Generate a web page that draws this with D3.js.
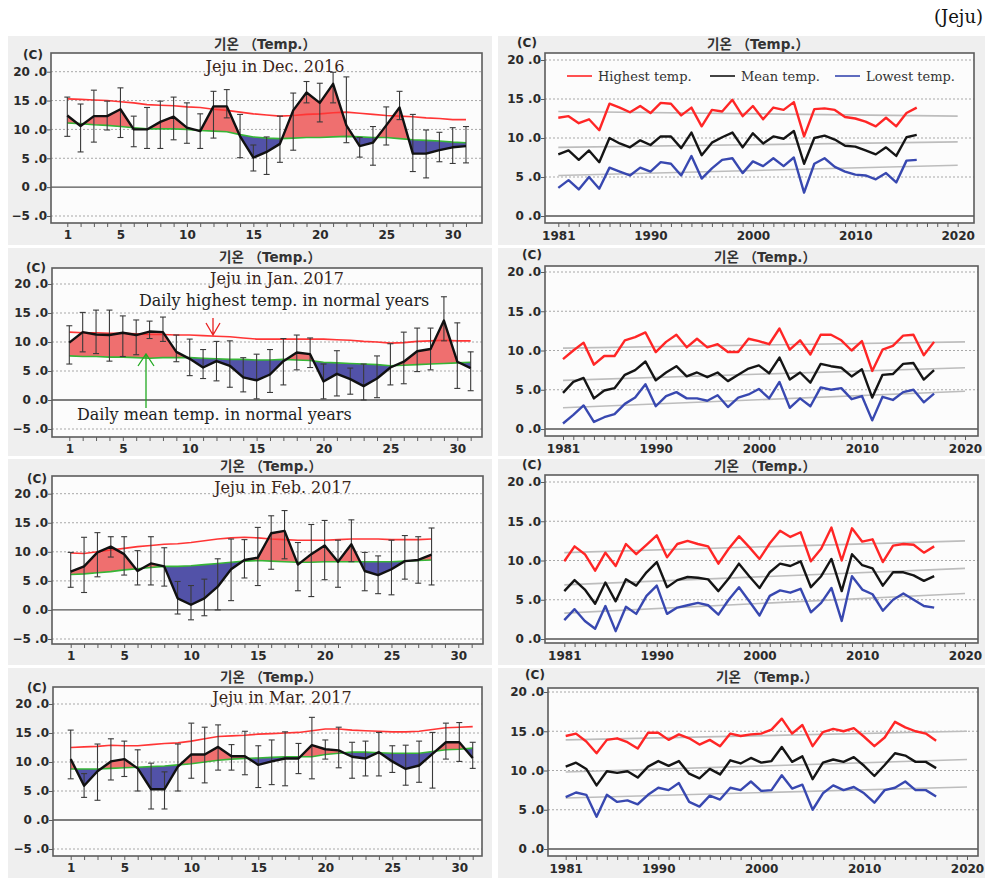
<!DOCTYPE html>
<html>
<head>
<meta charset="utf-8">
<script src="https://cdn.jsdelivr.net/npm/d3@7"></script>
<style>
  body { margin: 0; background: #ffffff; }
  svg { display: block; }
</style>
</head>
<body>
<svg id="chart" width="986" height="878"></svg>
<script>
// ---------- Axis ticks and labels ----------
const dayTicks = [1,2,3,4,5,6,7,8,9,10,11,12,13,14,15,16,17,18,19,20,21,22,23,24,25,26,27,28,29,30,31];
const dayLabels = [1, 5, 10, 15, 20, 25, 30];
const dailyTempTicks = [20, 15, 10, 5, 0, -5];
const yearLabels = [1981, 1990, 2000, 2010, 2020];
const yearlyTempTicks = [20, 15, 10, 5, 0];
const trendYears = [1981, 2020];
const seriesNames = ["Highest temp.", "Mean temp.", "Lowest temp."];

// ---------- Daily values: Dec. 2016 ----------
const decMean = [12.4,10.6,12.3,12.3,13.5,10.0,10.0,11.3,12.2,10.3,9.7,14.0,14.0,8.8,5.1,6.1,7.5,13.3,16.4,14.6,17.9,10.7,7.1,7.7,10.7,13.8,5.8,5.8,6.4,6.9,7.1];
const decMax  = [15.6,14.4,16.8,14.9,17.2,12.3,13.8,14.9,15.6,14.6,12.7,16.6,16.9,12.6,7.3,8.7,12.3,16.3,18.3,18.0,19.9,19.1,8.6,10.5,13.9,16.6,12.6,9.9,9.5,10.3,10.5];
const decMin  = [8.8,6.1,7.8,9.9,8.6,7.0,6.7,6.7,8.2,7.6,6.7,8.5,12.0,5.1,2.8,2.2,4.3,6.4,14.6,11.3,14.6,7.7,5.2,3.8,7.3,11.7,2.7,1.6,4.4,4.1,4.2];
const decNormHigh = [15.3,15.2,15.1,15.0,14.8,14.6,14.3,14.2,14.1,13.9,13.8,13.5,13.3,13.0,12.7,12.5,12.3,12.4,12.6,12.7,12.9,13.0,12.8,12.6,12.4,12.3,12.2,12.0,11.9,11.7,11.7];
const decNormMean = [11.1,11.0,10.8,10.7,10.5,10.3,10.1,10.1,10.1,10.0,9.8,9.7,9.6,9.1,8.7,8.5,8.4,8.5,8.6,8.6,8.7,8.8,8.7,8.6,8.6,8.4,8.2,8.1,8.0,7.8,7.7];

// ---------- Daily values: Jan. 2017 ----------
const janMean = [9.9,11.7,11.3,11.2,11.6,11.2,11.8,11.7,8.3,7.1,5.6,6.7,5.9,3.9,3.4,4.4,6.7,8.2,7.9,3.2,4.5,3.6,2.4,3.7,5.6,6.6,8.4,8.8,13.7,6.6,5.5];
const janMax  = [12.8,15.1,15.5,15.5,14.5,13.8,13.6,14.3,11.2,10.5,8.7,10.1,10.2,7.3,7.9,8.7,10.6,11.2,10.7,6.2,8.5,5.5,6.2,7.6,9.7,11.7,12.4,12.4,17.8,13.3,8.3];
const janMin  = [6.2,8.3,8.0,6.7,7.5,7.8,10.6,10.1,6.6,4.2,3.7,3.3,2.2,1.4,0.2,1.3,2.6,5.2,5.6,0.2,0.7,1.0,0.0,0.4,2.6,2.8,4.9,5.2,10.2,2.0,1.6];
const janNormHigh = [11.7,11.6,11.6,11.5,11.5,11.4,11.3,11.3,11.2,11.2,11.1,11.0,10.9,10.7,10.5,10.5,10.5,10.5,10.5,10.5,10.4,10.3,10.1,10.0,9.8,9.9,10.1,10.2,10.3,10.2,10.2];
const janNormMean = [7.6,7.5,7.5,7.4,7.4,7.3,7.2,7.3,7.3,7.3,7.2,7.1,7.0,7.0,6.9,6.9,7.0,6.9,6.8,6.5,6.4,6.3,6.2,6.1,5.9,6.0,6.1,6.2,6.3,6.4,6.5];

// ---------- Daily values: Feb. 2017 ----------
const febMean = [6.6,7.5,9.9,10.9,9.6,6.7,8.0,7.5,2.0,0.9,2.0,4.0,7.0,8.6,9.0,13.2,13.6,7.8,9.6,11.1,8.3,11.3,6.7,6.0,7.0,8.4,8.6,9.5];
const febMax  = [9.9,12.5,13.3,12.6,12.6,10.2,12.6,10.7,4.9,4.2,5.3,8.8,12.2,12.1,14.2,16.2,17.1,11.6,14.7,15.4,12.0,15.5,9.9,9.3,12.0,12.8,12.6,14.1];
const febMin  = [3.9,3.0,5.7,9.1,6.0,4.3,4.3,4.1,-0.7,-1.7,-1.0,0.0,1.6,5.5,4.2,7.0,8.8,3.3,2.3,5.2,3.9,8.3,3.3,2.8,2.6,5.3,4.6,4.3];
const febNormHigh = [9.8,9.7,10.0,10.3,10.6,10.9,11.1,11.3,11.4,11.6,11.9,12.2,12.4,12.5,12.4,12.2,12.1,12.0,12.0,12.0,12.1,12.2,12.2,12.2,12.1,12.1,12.1,12.2];
const febNormMean = [6.1,6.2,6.4,6.6,6.9,7.1,7.3,7.5,7.5,7.6,7.8,8.0,8.2,8.4,8.5,8.4,8.3,8.2,8.2,8.3,8.3,8.3,8.3,8.3,8.3,8.4,8.5,8.6];

// ---------- Daily values: Mar. 2017 ----------
const marMean = [10.5,5.9,8.4,10.1,10.5,8.9,5.3,5.3,9.2,11.3,11.3,12.6,11.0,11.0,9.5,10.1,10.6,10.6,12.9,12.2,12.0,10.9,10.6,11.7,10.1,8.8,9.4,11.4,13.4,13.4,10.7];
const marMax  = [15.5,8.0,13.1,14.0,13.6,12.1,9.8,8.3,13.1,16.7,16.0,16.4,13.0,15.3,12.8,13.8,15.2,13.2,17.7,13.8,16.0,13.4,13.6,15.1,12.8,12.9,13.6,15.1,16.7,16.8,13.4];
const marMin  = [7.1,3.9,3.4,6.9,7.5,5.0,1.9,1.9,5.0,7.2,6.4,8.6,8.6,7.8,5.6,6.1,5.9,8.0,7.1,10.5,9.0,7.2,7.6,7.6,8.2,6.0,6.5,5.5,10.5,10.1,8.9];
const marNormHigh = [12.5,12.6,12.7,12.9,12.8,12.8,13.0,13.2,13.3,13.6,14.0,14.4,14.5,14.6,14.8,14.9,15.0,15.1,15.4,15.7,15.7,15.5,15.4,15.3,15.2,15.2,15.3,15.6,15.9,16.0,16.1];
const marNormMean = [8.8,8.8,8.8,8.9,9.0,9.1,9.2,9.3,9.5,9.7,10.0,10.3,10.5,10.6,10.7,10.8,10.9,10.9,10.9,11.3,11.5,11.7,11.7,11.6,11.5,11.5,11.5,11.8,12.1,12.2,12.4];

// ---------- Monthly values by year, 1981 onward ----------
const decHigh = [12.6,12.8,11.9,12.4,11.0,14.4,13.9,13.3,14.1,13.2,14.5,14.4,12.9,13.9,11.5,13.6,13.4,14.9,12.8,14.1,12.4,13.9,13.6,14.6,10.2,13.7,13.8,13.6,12.7,12.5,12.1,11.5,12.6,11.5,13.2,13.9];
const decAvg  = [7.9,8.4,7.2,8.4,6.9,10.0,9.3,8.8,9.7,9.1,10.2,10.2,8.7,10.7,7.8,9.4,10.1,10.7,8.8,10.6,9.3,10.2,9.9,10.9,6.7,10.0,10.3,9.8,9.0,8.9,8.4,7.9,8.8,7.7,10.1,10.4];
const decLow  = [3.6,4.6,3.4,5.0,3.5,6.2,5.7,5.2,6.2,5.7,6.9,6.7,5.2,7.7,4.8,6.1,7.2,7.4,5.5,7.0,6.4,7.4,6.4,7.5,3.0,6.7,7.4,6.3,5.7,5.3,5.2,4.7,5.5,4.3,7.1,7.2];
const decTrendHigh = [13.4, 12.8];
const decTrendAvg  = [8.8, 9.5];
const decTrendLow  = [5.2, 6.5];

const janHigh = [8.9,10.0,11.0,8.2,9.3,9.3,11.3,11.7,12.3,9.8,11.1,12.0,10.4,11.5,10.4,10.8,9.8,9.8,11.5,11.2,10.8,12.8,10.1,11.3,9.5,12.0,12.0,11.3,10.0,11.2,7.4,10.1,10.6,11.9,12.0,9.4,11.1];
const janAvg  = [4.6,6.0,6.5,3.9,4.9,5.2,6.9,7.5,8.6,6.2,7.2,8.0,6.7,7.2,6.6,7.2,6.1,6.9,7.7,8.1,7.1,9.1,6.3,7.2,5.9,8.3,8.0,7.8,6.7,7.6,4.0,6.9,7.0,8.3,8.4,6.3,7.5];
const janLow  = [0.7,1.8,3.0,0.9,1.5,1.9,3.2,4.0,5.7,2.9,4.2,4.7,3.9,3.9,3.6,4.3,2.8,4.0,4.4,5.1,3.9,6.0,2.7,3.9,2.9,5.3,5.0,5.2,3.8,4.2,1.1,4.1,3.7,4.7,5.0,3.4,4.5];
const janTrendHigh = [10.3, 11.1];
const janTrendAvg  = [6.2, 7.8];
const janTrendLow  = [2.7, 4.8];

const febHigh = [9.9,11.8,10.8,8.7,11.0,9.3,12.1,10.8,12.0,13.2,10.4,12.1,12.5,12.1,11.8,9.6,11.5,13.1,11.7,10.2,12.2,13.8,13.0,13.6,9.9,11.5,14.2,10.0,14.1,12.4,12.7,9.8,11.9,12.1,12.0,11.0,11.8];
const febAvg  = [6.1,7.5,6.3,4.5,7.2,4.8,7.6,6.8,8.5,9.8,6.6,7.5,7.9,7.8,7.6,6.1,7.7,9.6,8.0,6.5,8.5,9.6,9.3,9.9,6.6,8.0,10.2,6.1,10.8,9.4,9.0,6.8,8.5,8.5,8.1,7.4,8.0];
const febLow  = [2.4,3.8,2.3,1.3,4.2,1.0,4.1,3.2,5.5,6.8,3.2,4.0,4.3,4.6,4.3,3.1,5.0,6.6,4.8,3.0,5.5,6.2,5.9,6.4,3.4,4.6,6.5,2.3,8.0,6.3,5.7,3.6,5.0,5.8,5.0,4.2,4.0];
const febTrendHigh = [11.0, 12.5];
const febTrendAvg  = [6.9, 9.0];
const febTrendLow  = [3.3, 5.8];

const marHigh = [14.4,14.7,13.7,12.2,13.9,14.1,13.6,12.8,14.8,14.8,13.9,14.6,14.1,13.3,13.9,13.1,14.7,14.4,14.6,14.7,15.2,16.6,14.7,15.8,13.1,14.9,15.3,15.0,15.4,14.3,13.1,14.2,16.2,15.5,15.0,14.7,13.8];
const marAvg  = [10.5,11.0,10.2,8.1,9.9,9.7,9.9,9.1,10.5,11.2,10.6,11.2,9.6,9.0,10.2,9.5,11.3,10.9,11.6,11.0,11.2,13.0,11.1,11.8,8.9,11.0,11.4,11.1,11.7,10.6,9.3,10.7,12.2,11.9,11.1,11.1,10.3];
const marLow  = [6.6,7.2,6.9,4.1,6.9,6.0,6.2,5.7,6.9,7.8,7.5,8.4,6.0,5.4,6.8,6.3,7.8,7.5,8.6,7.4,7.5,9.4,7.7,8.2,5.0,7.1,8.1,7.5,7.9,7.1,5.9,7.5,7.8,8.6,7.5,7.5,6.7];
const marTrendHigh = [13.9, 15.0];
const marTrendAvg  = [9.8, 11.4];
const marTrendLow  = [6.5, 7.9];

// ---------- Styles ----------
const C = {
  panel: "#efefef", plot: "#fcfcfc", frame: "#5c5c5c", grid: "#a8a8a8", zero: "#555555",
  warm: "#ef6f6f", cold: "#5252a8", normHigh: "#ff3535", normMean: "#36b536",
  bar: "#3a3a3a", mean: "#111111", high: "#ff2626", avg: "#151515", low: "#3848b0", trend: "#bdbdbd",
  text: "#2a2a2a"
};
const tickFont = "'DejaVu Sans', 'Liberation Sans', sans-serif";
const serifFont = "'DejaVu Serif', 'Liberation Serif', serif";
const titleText = "기온 （Temp.）";
const fmtTick = v => { const s = d3.format(".1f")(v).split("."); return s[0] + " ." + s[1]; };

const svg = d3.select("#chart");
const defs = svg.append("defs");

// ---------- Panel placement ----------
const rowBands = [[36, 245], [248, 456], [459, 665], [668, 878]];
const leftBand = [8, 492], rightBand = [498, 985];

const leftFrames = [
  { x0: 51, x1: 482, y0: 53,  y1: 223, yTop: 71.7,  yBot: 216, d1: 67.3, d30: 452.7, titleX: 265, titleY: 44,  cX: 33, cY: 55,  capX: 275, capY: 66 },
  { x0: 52, x1: 482, y0: 268, y1: 437, yTop: 284,   yBot: 429, d1: 69.3, d30: 457.3, titleX: 270, titleY: 257, cX: 36, cY: 268, capX: 277, capY: 278 },
  { x0: 52, x1: 483, y0: 476, y1: 644, yTop: 493.7, yBot: 639, d1: 70.7, d30: 458.3, titleX: 271, titleY: 466, cX: 37, cY: 479, capX: 283, capY: 487 },
  { x0: 53, x1: 482, y0: 687, y1: 856, yTop: 704,   yBot: 849, d1: 70.7, d30: 459.3, titleX: 271, titleY: 677, cX: 37, cY: 688, capX: 282, capY: 697 }
];
const rightFrames = [
  { x0: 545, x1: 974, y0: 53,  y1: 223, yTop: 60,  yBot: 216, yr0: 558.3, yr1: 957.7, titleX: 758, titleY: 44,  cX: 527, cY: 43 },
  { x0: 545, x1: 978, y0: 266, y1: 436, yTop: 272, yBot: 429, yr0: 563,   yr1: 965,   titleX: 765, titleY: 257, cX: 532, cY: 255 },
  { x0: 545, x1: 978, y0: 475, y1: 643, yTop: 482, yBot: 639, yr0: 564.3, yr1: 965,   titleX: 765, titleY: 466, cX: 532, cY: 465 },
  { x0: 548, x1: 978, y0: 688, y1: 856, yTop: 692, yBot: 849, yr0: 565.7, yr1: 967,   titleX: 767, titleY: 677, cX: 535, cY: 675 }
];

const dailySets = [
  { id: "dec", caption: "Jeju in Dec. 2016", mean: decMean, max: decMax, min: decMin, normHigh: decNormHigh, normMean: decNormMean },
  { id: "jan", caption: "Jeju in Jan. 2017", mean: janMean, max: janMax, min: janMin, normHigh: janNormHigh, normMean: janNormMean },
  { id: "feb", caption: "Jeju in Feb. 2017", mean: febMean, max: febMax, min: febMin, normHigh: febNormHigh, normMean: febNormMean },
  { id: "mar", caption: "Jeju in Mar. 2017", mean: marMean, max: marMax, min: marMin, normHigh: marNormHigh, normMean: marNormMean }
];
const yearlySets = [
  { high: decHigh, avg: decAvg, low: decLow, tHigh: decTrendHigh, tAvg: decTrendAvg, tLow: decTrendLow },
  { high: janHigh, avg: janAvg, low: janLow, tHigh: janTrendHigh, tAvg: janTrendAvg, tLow: janTrendLow },
  { high: febHigh, avg: febAvg, low: febLow, tHigh: febTrendHigh, tAvg: febTrendAvg, tLow: febTrendLow },
  { high: marHigh, avg: marAvg, low: marLow, tHigh: marTrendHigh, tAvg: marTrendAvg, tLow: marTrendLow }
];

// ---------- Background blocks ----------
rowBands.forEach(([t, b]) => {
  svg.append("rect").attr("x", leftBand[0]).attr("y", t).attr("width", leftBand[1] - leftBand[0]).attr("height", b - t).attr("fill", C.panel);
  svg.append("rect").attr("x", rightBand[0]).attr("y", t).attr("width", rightBand[1] - rightBand[0]).attr("height", b - t).attr("fill", C.panel);
});

svg.append("text").attr("x", 983).attr("y", 23).attr("text-anchor", "end")
  .attr("font-family", serifFont).attr("font-size", 18).attr("fill", "#111").text("(Jeju)");

function styleAxis(ax) {
  ax.select(".domain").remove();
  ax.selectAll(".tick line").attr("stroke", C.frame).attr("stroke-width", 1);
  ax.selectAll(".tick text").attr("font-family", tickFont).attr("font-weight", "bold")
    .attr("font-size", 12).attr("fill", C.text);
}

function panelHeader(g, f) {
  g.append("text").attr("x", f.titleX).attr("y", f.titleY).attr("text-anchor", "middle")
    .attr("dominant-baseline", "central").attr("font-family", "'DejaVu Sans', 'Noto Sans CJK KR', sans-serif")
    .attr("font-weight", "bold").attr("font-size", 13.5).attr("fill", "#333").text(titleText);
  g.append("text").attr("x", f.cX).attr("y", f.cY).attr("text-anchor", "middle")
    .attr("dominant-baseline", "central").attr("font-family", tickFont)
    .attr("font-weight", "bold").attr("font-size", 12).attr("fill", C.text).text("(C)");
}

// ---------- Daily panel ----------
function drawDaily(f, s) {
  const g = svg.append("g");
  const x = d3.scaleLinear().domain([1, 30]).range([f.d1, f.d30]);
  const y = d3.scaleLinear().domain([-5, 20]).range([f.yBot, f.yTop]);

  g.append("rect").attr("x", f.x0).attr("y", f.y0).attr("width", f.x1 - f.x0).attr("height", f.y1 - f.y0).attr("fill", C.plot);

  dailyTempTicks.forEach(v => {
    g.append("line").attr("x1", f.x0).attr("x2", f.x1).attr("y1", y(v)).attr("y2", y(v))
      .attr("stroke", v === 0 ? C.zero : C.grid).attr("stroke-width", v === 0 ? 1.3 : 1)
      .attr("stroke-dasharray", v === 0 ? null : "2,2");
  });

  const rows = s.mean.map((m, i) => ({ d: i + 1, mean: m, max: s.max[i], min: s.min[i], nh: s.normHigh[i], nm: s.normMean[i] }));

  defs.append("clipPath").attr("id", s.id + "-above").append("path")
    .attr("d", d3.area().x(r => x(r.d)).y0(f.y0).y1(r => y(r.nm))(rows));
  defs.append("clipPath").attr("id", s.id + "-below").append("path")
    .attr("d", d3.area().x(r => x(r.d)).y0(r => y(r.nm)).y1(f.y1)(rows));

  const band = d3.area().x(r => x(r.d)).y0(r => y(r.nm)).y1(r => y(r.mean));
  g.append("path").attr("d", band(rows)).attr("fill", C.warm).attr("clip-path", `url(#${s.id}-above)`);
  g.append("path").attr("d", band(rows)).attr("fill", C.cold).attr("clip-path", `url(#${s.id}-below)`);

  g.append("path").attr("d", d3.line().x(r => x(r.d)).y(r => y(r.nh))(rows))
    .attr("fill", "none").attr("stroke", C.normHigh).attr("stroke-width", 1.6);
  g.append("path").attr("d", d3.line().x(r => x(r.d)).y(r => y(r.nm))(rows))
    .attr("fill", "none").attr("stroke", C.normMean).attr("stroke-width", 1.6);

  const bars = g.append("g").attr("stroke", C.bar).attr("stroke-width", 1.1);
  rows.forEach(r => {
    bars.append("line").attr("x1", x(r.d)).attr("x2", x(r.d)).attr("y1", y(r.max)).attr("y2", y(r.min));
    [r.max, r.min].forEach(v => bars.append("line").attr("x1", x(r.d) - 3).attr("x2", x(r.d) + 3).attr("y1", y(v)).attr("y2", y(v)));
  });

  g.append("path").attr("d", d3.line().x(r => x(r.d)).y(r => y(r.mean))(rows))
    .attr("fill", "none").attr("stroke", C.mean).attr("stroke-width", 2.4).attr("stroke-linejoin", "round");

  g.append("rect").attr("x", f.x0).attr("y", f.y0).attr("width", f.x1 - f.x0).attr("height", f.y1 - f.y0)
    .attr("fill", "none").attr("stroke", C.frame).attr("stroke-width", 1.6);

  const ay = g.append("g").attr("transform", `translate(${f.x0},0)`)
    .call(d3.axisLeft(y).tickValues(dailyTempTicks).tickSize(4).tickPadding(0).tickFormat(fmtTick));
  styleAxis(ay);
  const ax = g.append("g").attr("transform", `translate(0,${f.y1})`)
    .call(d3.axisBottom(x).tickValues(dayTicks).tickSize(4).tickPadding(3).tickFormat(d => dayLabels.includes(d) ? d : ""));
  styleAxis(ax);

  panelHeader(g, f);
  g.append("text").attr("x", f.capX).attr("y", f.capY).attr("text-anchor", "middle")
    .attr("dominant-baseline", "central").attr("font-family", serifFont).attr("font-size", 16)
    .attr("fill", "#3a2418").text(s.caption);
  return { g, x, y };
}

// ---------- Yearly panel ----------
function drawYearly(f, s) {
  const g = svg.append("g");
  const x = d3.scaleLinear().domain([1981, 2020]).range([f.yr0, f.yr1]);
  const y = d3.scaleLinear().domain([0, 20]).range([f.yBot, f.yTop]);

  g.append("rect").attr("x", f.x0).attr("y", f.y0).attr("width", f.x1 - f.x0).attr("height", f.y1 - f.y0).attr("fill", C.plot);
  yearlyTempTicks.forEach(v => {
    g.append("line").attr("x1", f.x0).attr("x2", f.x1).attr("y1", y(v)).attr("y2", y(v))
      .attr("stroke", v === 0 ? C.zero : C.grid).attr("stroke-width", v === 0 ? 1.3 : 1)
      .attr("stroke-dasharray", v === 0 ? null : "2,2");
  });

  [s.tHigh, s.tAvg, s.tLow].forEach(t => {
    g.append("path").attr("d", d3.line().x((v, i) => x(trendYears[i])).y(v => y(v))(t))
      .attr("fill", "none").attr("stroke", C.trend).attr("stroke-width", 1.6);
  });

  const line = d3.line().x((v, i) => x(1981 + i)).y(v => y(v));
  [[s.high, C.high], [s.avg, C.avg], [s.low, C.low]].forEach(([vals, col]) => {
    g.append("path").attr("d", line(vals)).attr("fill", "none").attr("stroke", col)
      .attr("stroke-width", 2.4).attr("stroke-linejoin", "round");
  });

  g.append("rect").attr("x", f.x0).attr("y", f.y0).attr("width", f.x1 - f.x0).attr("height", f.y1 - f.y0)
    .attr("fill", "none").attr("stroke", C.frame).attr("stroke-width", 1.6);

  const ay = g.append("g").attr("transform", `translate(${f.x0},0)`)
    .call(d3.axisLeft(y).tickValues(yearlyTempTicks).tickSize(4).tickPadding(0).tickFormat(fmtTick));
  styleAxis(ay);
  const ax = g.append("g").attr("transform", `translate(0,${f.y1})`)
    .call(d3.axisBottom(x).tickValues(d3.range(1981, 2021)).tickSize(4).tickPadding(4)
      .tickFormat(d => yearLabels.includes(d) ? d : ""));
  styleAxis(ax);

  panelHeader(g, f);
  return { g, x, y };
}

dailySets.forEach((s, i) => drawDaily(leftFrames[i], s));
const firstYearly = yearlySets.map((s, i) => drawYearly(rightFrames[i], s))[0];

// ---------- Legend (first yearly panel) ----------
const legendItems = [
  { label: seriesNames[0], color: C.high, x: 567 },
  { label: seriesNames[1], color: C.avg,  x: 710 },
  { label: seriesNames[2], color: C.low,  x: 835 }
];
legendItems.forEach(it => {
  firstYearly.g.append("line").attr("x1", it.x).attr("x2", it.x + 25).attr("y1", 76).attr("y2", 76)
    .attr("stroke", it.color).attr("stroke-width", 1.6);
  firstYearly.g.append("text").attr("x", it.x + 31).attr("y", 76).attr("dominant-baseline", "central")
    .attr("font-family", serifFont).attr("font-size", 13).attr("fill", "#333").text(it.label);
});

// ---------- Annotations (Jan. 2017 panel) ----------
const ann = svg.append("g");
ann.append("text").attr("x", 139).attr("y", 300).attr("dominant-baseline", "central")
  .attr("font-family", serifFont).attr("font-size", 16).attr("fill", "#222").text("Daily highest temp. in normal years");
ann.append("text").attr("x", 77).attr("y", 414).attr("dominant-baseline", "central")
  .attr("font-family", serifFont).attr("font-size", 16).attr("fill", "#222").text("Daily mean temp. in normal years");
// red arrow pointing down to the normal highest line
ann.append("path").attr("d", "M213,318 L213,335 M206,323 L213,335 L220,323")
  .attr("fill", "none").attr("stroke", "#e82020").attr("stroke-width", 1.3);
// green arrow pointing up to the normal mean line
ann.append("path").attr("d", "M146,408 L146,354 M138,366 L146,354 L154,366")
  .attr("fill", "none").attr("stroke", "#22aa22").attr("stroke-width", 1.3);
</script>
</body>
</html>
